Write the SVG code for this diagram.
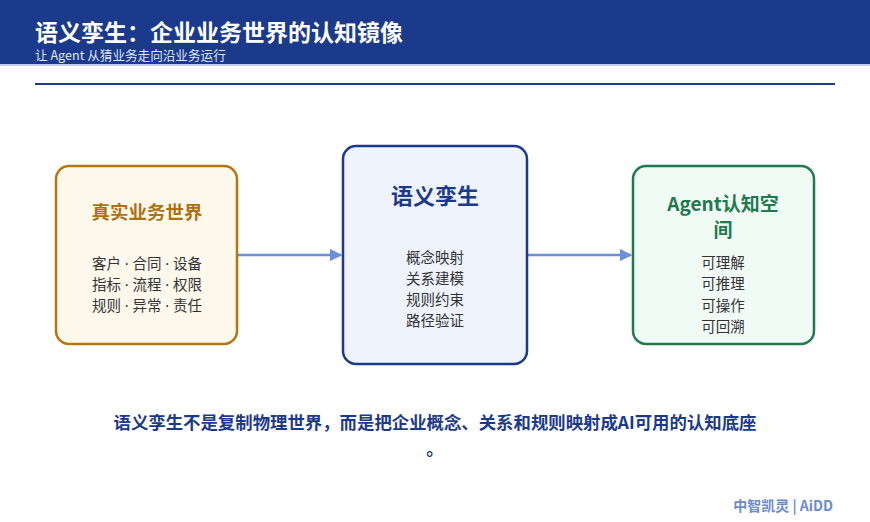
<svg xmlns="http://www.w3.org/2000/svg" width="870" height="522" viewBox="0 0 870 522">
<defs>
<style>
text{font-family:"Noto Sans CJK SC","Noto Sans",sans-serif}
.box{stroke-width:2.5}
.t{font-weight:bold;text-anchor:middle}
.b{font-size:14.5px;fill:#333;text-anchor:middle}
.d{font-family:"Noto Sans",sans-serif}
.conn{stroke:#6b8fd8;stroke-width:2.5;fill:none}
</style>
<marker id="ah" viewBox="0 0 10 10" refX="9" refY="5" markerWidth="5" markerHeight="5" orient="auto" markerUnits="strokeWidth">
<path d="M0,0 L10,5 L0,10 z" fill="#6b8fd8"/>
</marker>
</defs>
<rect width="870" height="522" fill="#ffffff"/>
<g id="header">
<rect x="0" y="0" width="870" height="64" fill="#1c3a8c"/>
<rect x="0" y="64" width="870" height="2" fill="#c5cfe6"/>
<text x="35" y="41" font-size="23" font-weight="bold" fill="#ffffff">语义孪生：企业业务世界的认知镜像</text>
<text x="35" y="60" font-size="12.6" fill="#dfe6f5">让 Agent 从猜业务走向沿业务运行</text>
<line x1="35" y1="84" x2="835" y2="84" stroke="#1c3a8c" stroke-width="2"/>
</g>
<g id="connectors">
<line class="conn" x1="238" y1="255" x2="341" y2="255" marker-end="url(#ah)"/>
<line class="conn" x1="528" y1="255" x2="631" y2="255" marker-end="url(#ah)"/>
</g>
<g id="real-world">
<rect class="box" x="56" y="166" width="181" height="178" rx="13" fill="#fdf8ec" stroke="#b5760f"/>
<text class="t" x="147" y="219" font-size="18.5" fill="#b0700f">真实业务世界</text>
<text class="b" x="147" y="269">客户<tspan class="d"> · </tspan>合同<tspan class="d"> · </tspan>设备</text>
<text class="b" x="147" y="290">指标<tspan class="d"> · </tspan>流程<tspan class="d"> · </tspan>权限</text>
<text class="b" x="147" y="311">规则<tspan class="d"> · </tspan>异常<tspan class="d"> · </tspan>责任</text>
</g>
<g id="twin">
<rect class="box" x="343" y="146" width="184" height="218" rx="13" fill="#eef3fd" stroke="#1c3a8c"/>
<text class="t" x="435" y="204" font-size="22" fill="#1c3a8c">语义孪生</text>
<text class="b" x="435" y="263">概念映射</text>
<text class="b" x="435" y="284">关系建模</text>
<text class="b" x="435" y="305">规则约束</text>
<text class="b" x="435" y="326">路径验证</text>
</g>
<g id="agent">
<rect class="box" x="633" y="166" width="181" height="178" rx="13" fill="#f1fbf6" stroke="#1f7a4e"/>
<text class="t" x="723" y="211" font-size="19" fill="#1f7a4e">Agent认知空</text>
<text class="t" x="723" y="237" font-size="19" fill="#1f7a4e">间</text>
<text class="b" x="723" y="268">可理解</text>
<text class="b" x="723" y="289">可推理</text>
<text class="b" x="723" y="311">可操作</text>
<text class="b" x="723" y="332">可回溯</text>
</g>
<g id="footer">
<text x="435" y="429" font-size="17.4" font-weight="bold" fill="#1c3a8c" text-anchor="middle">语义孪生不是复制物理世界，而是把企业概念、关系和规则映射成AI可用的认知底座</text>
<text x="435" y="455" font-size="17.4" font-weight="bold" fill="#1c3a8c" text-anchor="middle">。</text>
<text x="833" y="511" font-size="14" font-weight="bold" fill="#6b8bd0" text-anchor="end">中智凯灵 | AiDD</text>
</g>
</svg>
